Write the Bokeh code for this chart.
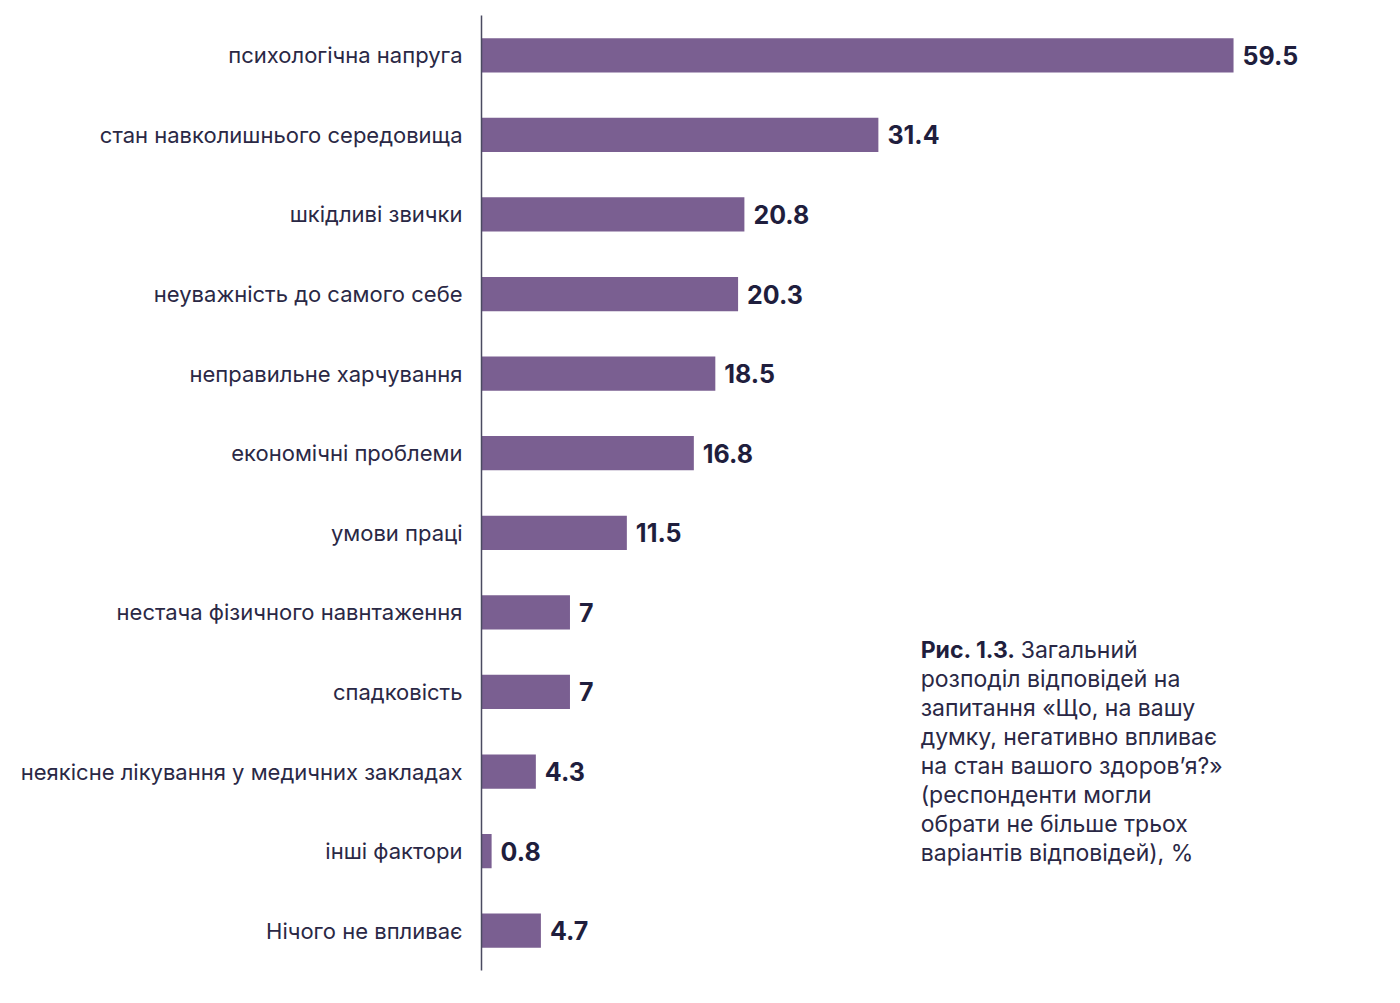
from bokeh.plotting import figure
from bokeh.models import FactorRange, Range1d, Label, ColumnDataSource
from bokeh.embed import file_html
from bokeh.resources import INLINE
from bokeh.core.properties import value

categories = [
    "психологічна напруга",
    "стан навколишнього середовища",
    "шкідливі звички",
    "неуважність до самого себе",
    "неправильне харчування",
    "економічні проблеми",
    "умови праці",
    "нестача фізичного навнтаження",
    "спадковість",
    "неякісне лікування у медичних закладах",
    "інші фактори",
    "Нічого не впливає",
]
values = [59.5, 31.4, 20.8, 20.3, 18.5, 16.8, 11.5, 7, 7, 4.3, 0.8, 4.7]
value_labels = ["59.5", "31.4", "20.8", "20.3", "18.5", "16.8", "11.5", "7", "7", "4.3", "0.8", "4.7"]

caption_bold = "Рис. 1.3."
caption_first = "Загальний"
caption_rest = ("розподіл відповідей на\nзапитання «Що, на вашу\nдумку, негативно впливає\n"
                "на стан вашого здоров’я?»\n(респонденти могли\nобрати не більше трьох\n"
                "варіантів відповідей), %")

BAR = "#7a5f91"
TXT = "#2a2845"
VAL = "#1f1e3d"
FONT = "Inter"

src = ColumnDataSource(dict(cat=categories, val=values, lab=value_labels))

p = figure(
    width=1392, height=985,
    y_range=FactorRange(*categories[::-1], range_padding=0),
    x_range=Range1d(0, 71.76),
    output_backend="svg", toolbar_location=None,
    min_border_left=481, min_border_right=4, min_border_top=15, min_border_bottom=15,
)
p.outline_line_color = None
p.grid.visible = False
p.xaxis.visible = False
p.background_fill_color = "white"

p.hbar(y="cat", right="val", left=0, height=0.43, source=src, color=BAR, line_color=None)
p.text(x="val", y="cat", text="lab", source=src, x_offset=9, text_baseline="middle",
       text_font=value(FONT), text_font_style="bold", text_font_size="25px", text_color=VAL)

yax = p.yaxis[0]
yax.axis_line_color = "#4a4a60"
yax.axis_line_width = 1.5
yax.major_tick_line_color = None
yax.minor_tick_line_color = None
yax.major_label_standoff = 13
yax.major_label_text_font = FONT
yax.major_label_text_font_size = "22px"
yax.major_label_text_color = TXT

xc = 34.75
yc = 4.20
p.add_layout(Label(x=xc, y=yc, text=caption_bold, text_font=FONT, text_font_style="bold",
                   text_font_size="23px", text_color=VAL, text_baseline="top"))
p.add_layout(Label(x=xc, y=yc, x_offset=100, text=caption_first, text_font=FONT,
                   text_font_size="23px", text_color=TXT, text_baseline="top"))
p.add_layout(Label(x=xc, y=yc, y_offset=-29, text=caption_rest, text_font=FONT,
                   text_font_size="23px", text_color=TXT, text_baseline="top",
                   text_line_height=1.035))

open("out.html", "w").write(file_html(p, INLINE))
